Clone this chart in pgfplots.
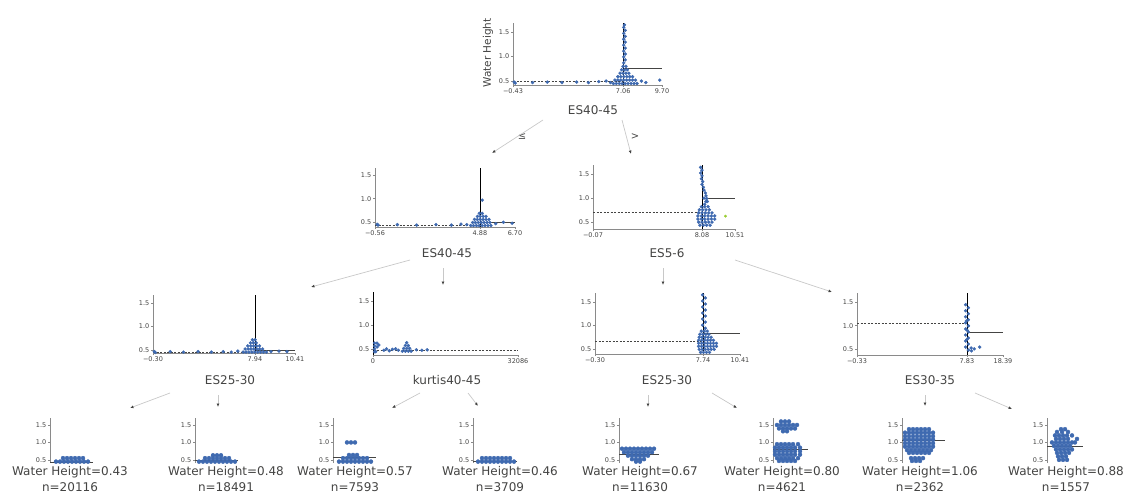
\documentclass[border=0pt]{standalone}
\usepackage{fontspec}
\setmainfont{DejaVu Sans}
\usepackage{pgfplots}
\pgfplotsset{compat=1.18}
\usetikzlibrary{arrows.meta}
\definecolor{dtblue}{HTML}{3F6AB0}
\definecolor{axgray}{HTML}{8A8A8A}
\definecolor{txtgray}{HTML}{444443}
\definecolor{edgegray}{HTML}{C8C8C8}
\definecolor{dtgreen}{HTML}{9ACD32}
\pgfplotsset{
 dtbase/.style={scale only axis, clip=false, axis lines*=left,
   axis line style={draw=axgray, line width=0.5pt},
   every tick/.style={draw=axgray, line width=0.4pt},
   major tick length=2pt, tick align=outside,
   scaled ticks=false,
   ytick={0.5,1,1.5}, yticklabels={0.5,1.0,1.5},
   tick label style={font=\fontsize{6.5}{7.5}\selectfont, text=txtgray},
   /pgf/number format/assume math mode=true,
   xticklabel style={inner sep=1.5pt}, yticklabel style={inner sep=1.5pt},
   anchor=south west},
 dtleaf/.style={dtbase, axis x line=none, axis y line*=left, xtick=\empty,
   xmin=0, xmax=1, ymin=0.41, ymax=1.7, width=50pt, height=45pt},
 pts/.style={only marks, color=dtblue, mark=*, mark size=1.5pt, mark options={solid, fill=dtblue, draw=dtblue}},
 lpts/.style={only marks, color=dtblue, mark=*, mark size=2pt, mark options={solid, fill=dtblue, draw=dtblue}},
 spl/.style={black, line width=0.7pt},
 mn/.style={txtgray, dash pattern=on 2pt off 1.5pt, line width=0.6pt},
 mns/.style={txtgray, line width=0.6pt},
}
\begin{document}
\begin{tikzpicture}
\path[use as bounding box] (0pt,0pt) rectangle (1132pt,-495pt);

% ---------------- root ----------------
\begin{axis}[dtbase, at={(513pt,-85pt)}, width=149pt, height=62pt,
  xmin=-0.43, xmax=9.70, ymin=0.42, ymax=1.68,
  xtick={-0.43,7.06,9.70}, xticklabels={−0.43,7.06,9.70}]
\addplot[mn] coordinates {(-0.43,0.49)(7.06,0.49)};
\addplot[mns] coordinates {(7.06,0.75)(9.70,0.75)};
\addplot[pts] coordinates {(-0.35,0.48)(-0.28,0.46)(0.9,0.47)(1.9,0.48)(2.9,0.47)(3.9,0.48)(4.7,0.47)(5.4,0.49)(5.9,0.5)(6.2,0.47)
(6.4,0.45)(6.6,0.45)(6.8,0.45)(7.0,0.45)(7.2,0.45)(7.4,0.45)(7.6,0.45)(7.8,0.45)(8.0,0.45)
(6.5,0.52)(6.7,0.52)(6.9,0.52)(7.1,0.52)(7.3,0.52)(7.5,0.52)(7.7,0.52)(7.9,0.52)
(6.7,0.59)(6.9,0.59)(7.1,0.59)(7.3,0.59)(7.5,0.59)(7.7,0.59)
(6.85,0.66)(7.05,0.66)(7.25,0.66)(7.45,0.66)
(6.95,0.73)(7.15,0.73)(7.35,0.73)(7.05,0.80)(7.25,0.80)
(7.1,0.87)(7.2,0.93)(7.1,0.99)(7.2,1.05)(7.1,1.11)(7.2,1.17)(7.1,1.23)(7.2,1.29)(7.1,1.35)(7.2,1.41)(7.1,1.47)(7.2,1.53)(7.1,1.59)(7.15,1.64)
(8.3,0.5)(8.6,0.47)(9.55,0.52)};
\addplot[spl] coordinates {(7.06,0.42)(7.06,1.68)};
\end{axis}

% ---------------- level 1 left ----------------
\begin{axis}[dtbase, at={(375pt,-227pt)}, width=140pt, height=59pt,
  xmin=-0.56, xmax=6.70, ymin=0.40, ymax=1.65,
  xtick={-0.56,4.88,6.70}, xticklabels={−0.56,4.88,6.70}]
\addplot[mn] coordinates {(-0.56,0.44)(4.88,0.44)};
\addplot[mns] coordinates {(4.88,0.51)(6.70,0.51)};
\addplot[pts] coordinates {(-0.45,0.46)(-0.4,0.44)(0.6,0.45)(1.6,0.44)(2.6,0.45)(3.4,0.44)(3.9,0.46)(4.2,0.45)
(4.4,0.43)(4.55,0.43)(4.7,0.43)(4.85,0.43)(5.0,0.43)(5.15,0.43)(5.3,0.43)(5.45,0.43)
(4.5,0.495)(4.65,0.495)(4.8,0.495)(4.95,0.495)(5.1,0.495)(5.25,0.495)(5.4,0.495)
(4.6,0.56)(4.75,0.56)(4.9,0.56)(5.05,0.56)(5.2,0.56)(5.35,0.56)
(4.75,0.625)(4.9,0.625)(5.05,0.625)(5.2,0.625)(4.85,0.69)(5.0,0.69)
(5.0,0.97)(5.7,0.47)(6.1,0.5)(6.55,0.48)};
\addplot[spl] coordinates {(4.88,0.40)(4.88,1.65)};
\end{axis}

% ---------------- level 1 right ----------------
\begin{axis}[dtbase, at={(593pt,-229pt)}, width=142pt, height=64pt,
  xmin=-0.07, xmax=10.51, ymin=0.35, ymax=1.70,
  xtick={-0.07,8.05,10.51}, xticklabels={−0.07,8.08,10.51}]
\addplot[mn] coordinates {(-0.07,0.71)(8.05,0.71)};
\addplot[mns] coordinates {(8.05,1.0)(10.51,1.0)};
\addplot[pts] coordinates {(7.95,1.65)(8.05,1.59)(7.95,1.53)(8.05,1.47)(8.0,1.41)(8.1,1.35)(8.05,1.29)(8.15,1.23)(8.2,1.17)(8.3,1.11)(8.35,1.05)(8.4,0.99)(8.35,0.93)(8.25,0.87)(8.45,0.93)(8.2,1.0)
(8.0,0.82)(8.25,0.82)(8.5,0.82)
(7.85,0.755)(8.1,0.755)(8.35,0.755)(8.6,0.755)
(7.8,0.69)(8.05,0.69)(8.3,0.69)(8.55,0.69)(8.8,0.69)
(7.75,0.625)(8.0,0.625)(8.25,0.625)(8.5,0.625)(8.75,0.625)(9.0,0.625)
(7.75,0.56)(8.0,0.56)(8.25,0.56)(8.5,0.56)(8.75,0.56)(9.0,0.56)
(7.8,0.495)(8.05,0.495)(8.3,0.495)(8.55,0.495)(8.8,0.495)
(7.9,0.43)(8.15,0.43)(8.4,0.43)(8.65,0.43)};
\addplot[only marks, color=dtgreen, mark=*, mark size=1.2pt, mark options={solid, fill=dtgreen}] coordinates {(9.8,0.62)};
\addplot[spl] coordinates {(8.05,0.35)(8.05,1.70)};
\end{axis}

% ---------------- level 2: P3 ----------------
\begin{axis}[dtbase, at={(153pt,-353pt)}, width=142pt, height=58pt,
  xmin=-0.30, xmax=10.41, ymin=0.44, ymax=1.67,
  xtick={-0.30,7.39,10.41}, xticklabels={−0.30,7.94,10.41}]
\addplot[mn] coordinates {(-0.30,0.45)(7.39,0.45)};
\addplot[mns] coordinates {(7.39,0.50)(10.41,0.50)};
\addplot[pts] coordinates {(-0.2,0.47)(-0.12,0.45)(1.0,0.47)(2.0,0.46)(3.1,0.47)(4.1,0.46)(5.0,0.47)(5.6,0.46)(6.1,0.48)(8.6,0.47)(9.2,0.48)(9.8,0.47)
(6.5,0.46)(6.72,0.46)(6.94,0.46)(7.16,0.46)(7.38,0.46)(7.6,0.46)(7.82,0.46)(8.04,0.46)(8.26,0.46)
(6.65,0.525)(6.87,0.525)(7.09,0.525)(7.31,0.525)(7.53,0.525)(7.75,0.525)(7.97,0.525)
(6.85,0.59)(7.07,0.59)(7.29,0.59)(7.51,0.59)(7.73,0.59)
(7.05,0.655)(7.27,0.655)(7.49,0.655)(7.2,0.72)(7.4,0.72)};
\addplot[spl] coordinates {(7.39,0.44)(7.39,1.67)};
\end{axis}

% ---------------- level 2: P4 ----------------
\begin{axis}[dtbase, at={(373pt,-355pt)}, width=145pt, height=63pt,
  xmin=0, xmax=32086, ymin=0.37, ymax=1.70,
  xtick={0,32086}, xticklabels={0,32086}]
\addplot[mn] coordinates {(150,0.47)(32086,0.47)};
\addplot[pts] coordinates {(350,0.44)(350,0.5)(350,0.56)(350,0.62)(900,0.62)(1300,0.58)(900,0.54)(600,0.44)
(2400,0.47)(3000,0.5)(3600,0.46)(4300,0.49)(5000,0.5)(5600,0.47)
(6500,0.45)(7150,0.45)(7800,0.45)(8450,0.45)(6800,0.51)(7450,0.51)(8100,0.51)(7150,0.57)(7800,0.57)(7450,0.63)
(9600,0.48)(10800,0.47)(12000,0.48)};
\addplot[spl] coordinates {(150,0.37)(150,1.70)};
\end{axis}

% ---------------- level 2: P5 ----------------
\begin{axis}[dtbase, at={(595pt,-354pt)}, width=145pt, height=61pt,
  xmin=-0.30, xmax=10.41, ymin=0.39, ymax=1.70,
  xtick={-0.30,7.68,10.41}, xticklabels={−0.30,7.74,10.41}]
\addplot[mn] coordinates {(-0.30,0.66)(7.68,0.66)};
\addplot[mns] coordinates {(7.68,0.84)(10.41,0.84)};
\addplot[pts] coordinates {(7.65,1.66)(7.85,1.595)(7.65,1.53)(7.85,1.465)(7.65,1.40)(7.85,1.335)(7.65,1.27)(7.85,1.205)(7.65,1.14)(7.85,1.075)(7.65,1.01)(7.85,0.945)
(7.55,0.88)(7.77,0.88)(7.99,0.88)
(7.45,0.815)(7.67,0.815)(7.89,0.815)(8.11,0.815)
(7.4,0.75)(7.62,0.75)(7.84,0.75)(8.06,0.75)(8.28,0.75)
(7.35,0.685)(7.57,0.685)(7.79,0.685)(8.01,0.685)(8.23,0.685)(8.45,0.685)
(7.35,0.62)(7.57,0.62)(7.79,0.62)(8.01,0.62)(8.23,0.62)(8.45,0.62)(8.67,0.62)
(7.35,0.555)(7.57,0.555)(7.79,0.555)(8.01,0.555)(8.23,0.555)(8.45,0.555)(8.67,0.555)
(7.4,0.49)(7.62,0.49)(7.84,0.49)(8.06,0.49)(8.28,0.49)(8.5,0.49)
(7.5,0.425)(7.72,0.425)(7.94,0.425)(8.16,0.425)};
\addplot[spl] coordinates {(7.68,0.39)(7.68,1.70)};
\end{axis}

% ---------------- level 2: P6 ----------------
\begin{axis}[dtbase, at={(857pt,-355pt)}, width=146pt, height=62pt,
  xmin=-0.33, xmax=18.39, ymin=0.37, ymax=1.70,
  xtick={-0.33,13.77,18.39}, xticklabels={−0.33,7.83,18.39}]
\addplot[mn] coordinates {(-0.33,1.05)(13.77,1.05)};
\addplot[mns] coordinates {(13.77,0.86)(18.39,0.86)};
\addplot[pts] coordinates {(13.6,1.45)(13.95,1.385)(13.6,1.32)(13.95,1.255)(13.6,1.19)(13.95,1.125)(13.6,1.06)(13.95,0.995)(13.6,0.93)(13.95,0.865)(13.6,0.80)(13.95,0.735)(13.6,0.67)(13.95,0.605)(13.6,0.54)(13.95,0.475)
(13.7,1.1)(13.8,0.9)(13.75,0.7)(14.3,0.52)(14.35,0.46)(14.7,0.5)(15.4,0.54)};
\addplot[spl] coordinates {(13.77,0.37)(13.77,1.70)};
\end{axis}

% ---------------- leaves ----------------
\begin{axis}[dtleaf, at={(50pt,-463pt)}]
\addplot[lpts] coordinates {(0.12,0.45)(0.2,0.45)(0.28,0.45)(0.36,0.45)(0.44,0.45)(0.52,0.45)(0.6,0.45)(0.68,0.45)(0.76,0.45)
(0.26,0.55)(0.34,0.55)(0.42,0.55)(0.5,0.55)(0.58,0.55)(0.66,0.55)};
\addplot[mns] coordinates {(0,0.43)(0.85,0.43)};
\end{axis}
\begin{axis}[dtleaf, at={(195pt,-463pt)}]
\addplot[lpts] coordinates {(0.08,0.45)(0.16,0.45)(0.24,0.45)(0.32,0.45)(0.4,0.45)(0.48,0.45)(0.56,0.45)(0.64,0.45)(0.72,0.45)(0.8,0.45)
(0.2,0.55)(0.28,0.55)(0.36,0.55)(0.44,0.55)(0.52,0.55)(0.6,0.55)(0.68,0.55)(0.36,0.63)(0.44,0.63)(0.52,0.63)};
\addplot[mns] coordinates {(0,0.48)(0.85,0.48)};
\end{axis}
\begin{axis}[dtleaf, at={(333pt,-463pt)}]
\addplot[lpts] coordinates {(0.12,0.45)(0.2,0.45)(0.28,0.45)(0.36,0.45)(0.44,0.45)(0.52,0.45)(0.6,0.45)(0.68,0.45)(0.76,0.45)
(0.2,0.55)(0.28,0.55)(0.36,0.55)(0.44,0.55)(0.52,0.55)(0.6,0.55)(0.68,0.55)(0.32,0.64)(0.4,0.64)(0.48,0.64)
(0.28,1.0)(0.36,1.0)(0.44,1.0)};
\addplot[mns] coordinates {(0,0.57)(0.85,0.57)};
\end{axis}
\begin{axis}[dtleaf, at={(473pt,-463pt)}]
\addplot[lpts] coordinates {(0.1,0.45)(0.18,0.45)(0.26,0.45)(0.34,0.45)(0.42,0.45)(0.5,0.45)(0.58,0.45)(0.66,0.45)(0.74,0.45)(0.82,0.45)
(0.18,0.55)(0.26,0.55)(0.34,0.55)(0.42,0.55)(0.5,0.55)(0.58,0.55)(0.66,0.55)(0.74,0.55)};
\addplot[mns] coordinates {(0,0.46)(0.88,0.46)};
\end{axis}
\begin{axis}[dtleaf, at={(619pt,-463pt)}]
\addplot[lpts] coordinates {(0.06,0.82)(0.14,0.82)(0.22,0.82)(0.3,0.82)(0.38,0.82)(0.46,0.82)(0.54,0.82)(0.62,0.82)(0.7,0.82)
(0.1,0.72)(0.18,0.72)(0.26,0.72)(0.34,0.72)(0.42,0.72)(0.5,0.72)(0.58,0.72)(0.66,0.72)
(0.18,0.62)(0.26,0.62)(0.34,0.62)(0.42,0.62)(0.5,0.62)(0.58,0.62)
(0.26,0.52)(0.34,0.52)(0.42,0.52)(0.5,0.52)(0.34,0.45)(0.42,0.45)};
\addplot[mns] coordinates {(0,0.67)(0.8,0.67)};
\end{axis}
\begin{axis}[dtleaf, at={(773pt,-463pt)}]
\addplot[lpts] coordinates {(0.16,1.6)(0.24,1.6)(0.32,1.6)
(0.08,1.5)(0.16,1.5)(0.24,1.5)(0.32,1.5)(0.4,1.5)(0.48,1.5)
(0.12,1.4)(0.2,1.4)(0.28,1.4)(0.36,1.4)(0.44,1.4)(0.2,1.32)(0.28,1.32)
(0.08,0.95)(0.16,0.95)(0.24,0.95)(0.32,0.95)(0.4,0.95)(0.5,0.95)
(0.04,0.85)(0.12,0.85)(0.2,0.85)(0.28,0.85)(0.36,0.85)(0.44,0.85)(0.54,0.85)
(0.04,0.75)(0.12,0.75)(0.2,0.75)(0.28,0.75)(0.36,0.75)(0.44,0.75)(0.54,0.75)
(0.04,0.65)(0.12,0.65)(0.2,0.65)(0.28,0.65)(0.36,0.65)(0.44,0.65)(0.54,0.65)
(0.08,0.55)(0.16,0.55)(0.24,0.55)(0.32,0.55)(0.4,0.55)(0.5,0.55)
(0.12,0.47)(0.2,0.47)(0.28,0.47)(0.36,0.47)(0.44,0.47)};
\addplot[mns] coordinates {(0,0.80)(0.7,0.80)};
\end{axis}
\begin{axis}[dtleaf, at={(902pt,-463pt)}]
\addplot[lpts] coordinates {(0.14,1.38)(0.22,1.38)(0.3,1.38)(0.38,1.38)(0.46,1.38)(0.54,1.38)
(0.06,1.28)(0.14,1.28)(0.22,1.28)(0.3,1.28)(0.38,1.28)(0.46,1.28)(0.54,1.28)(0.62,1.28)
(0.06,1.18)(0.14,1.18)(0.22,1.18)(0.3,1.18)(0.38,1.18)(0.46,1.18)(0.54,1.18)(0.62,1.18)
(0.06,1.08)(0.14,1.08)(0.22,1.08)(0.3,1.08)(0.38,1.08)(0.46,1.08)(0.54,1.08)(0.62,1.08)
(0.06,0.98)(0.14,0.98)(0.22,0.98)(0.3,0.98)(0.38,0.98)(0.46,0.98)(0.54,0.98)(0.62,0.98)
(0.06,0.88)(0.14,0.88)(0.22,0.88)(0.3,0.88)(0.38,0.88)(0.46,0.88)(0.54,0.88)(0.62,0.88)
(0.1,0.78)(0.18,0.78)(0.26,0.78)(0.34,0.78)(0.42,0.78)(0.5,0.78)(0.58,0.78)
(0.14,0.7)(0.22,0.7)(0.3,0.7)(0.38,0.7)(0.46,0.7)(0.54,0.7)
(0.18,0.55)(0.26,0.55)(0.34,0.55)(0.42,0.55)(0.2,0.47)(0.28,0.47)(0.36,0.47)};
\addplot[mns] coordinates {(0,1.06)(0.86,1.06)};
\end{axis}
\begin{axis}[dtleaf, at={(1047pt,-463pt)}]
\addplot[lpts] coordinates {(0.28,1.38)(0.36,1.38)(0.2,1.3)(0.3,1.3)(0.42,1.3)
(0.16,1.2)(0.24,1.2)(0.32,1.2)(0.4,1.2)(0.5,1.2)
(0.18,1.1)(0.26,1.1)(0.34,1.1)(0.42,1.1)(0.6,1.1)
(0.1,1.0)(0.18,1.0)(0.26,1.0)(0.34,1.0)(0.42,1.0)(0.5,1.0)(0.56,1.0)
(0.14,0.9)(0.22,0.9)(0.3,0.9)(0.38,0.9)(0.46,0.9)
(0.18,0.8)(0.26,0.8)(0.34,0.8)(0.42,0.8)(0.5,0.8)
(0.2,0.7)(0.28,0.7)(0.36,0.7)(0.44,0.7)
(0.22,0.6)(0.3,0.6)(0.38,0.6)(0.24,0.5)(0.32,0.5)(0.4,0.5)};
\addplot[mns] coordinates {(0,0.88)(0.72,0.88)};
\end{axis}

% ---------------- labels and edges ----------------
\begin{scope}[x=1pt,y=-1pt, every node/.style={text=txtgray, font=\fontsize{12}{14}\selectfont, inner sep=0pt}]
\node[rotate=90, font=\fontsize{10.5}{12}\selectfont] at (488,53) {Water Height};
\node at (593,110) {ES40-45};
\node at (447,253) {ES40-45};
\node at (667,253) {ES5-6};
\node at (230,380) {ES25-30};
\node at (447,380) {kurtis40-45};
\node at (667,380) {ES25-30};
\node at (930,380) {ES30-35};
\node[font=\fontsize{10}{12}\selectfont] at (522,137) {≤};
\node[font=\fontsize{10}{12}\selectfont] at (635,137) {>};
\foreach \cx/\v/\n in {70/0.43/20116, 226/0.48/18491, 355/0.57/7593, 500/0.46/3709, 640/0.67/11630, 782/0.80/4621, 920/1.06/2362, 1066/0.88/1557}{
  \node[font=\fontsize{12}{14}\selectfont] at (\cx,472) {Water Height=\v};
  \node[font=\fontsize{12}{14}\selectfont] at (\cx,487) {n=\n};
}
\tikzset{edge/.style={edgegray, line width=0.7pt, -{Latex[length=3.5pt,width=3pt,color=txtgray]}}}
\draw[edge] (543,120) -- (492,153);
\draw[edge] (622,120) -- (631,154);
\draw[edge] (410,260) -- (311,287);
\draw[edge] (443,268) -- (443,285);
\draw[edge] (663,268) -- (663,285);
\draw[edge] (735,260) -- (832,292);
\draw[edge] (170,393) -- (130,408);
\draw[edge] (218,395) -- (218,407);
\draw[edge] (420,393) -- (392,408);
\draw[edge] (468,393) -- (478,406);
\draw[edge] (648,395) -- (648,407);
\draw[edge] (712,393) -- (737,408);
\draw[edge] (925,395) -- (925,406);
\draw[edge] (975,393) -- (1012,409);
\end{scope}
\end{tikzpicture}
\end{document}
